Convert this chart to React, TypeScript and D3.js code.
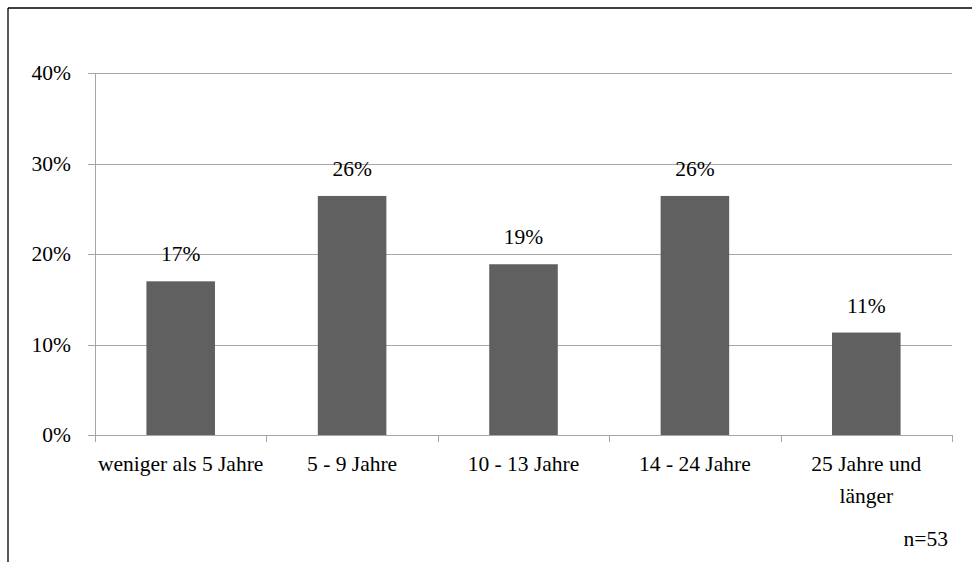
import React from "react";
import * as d3 from "d3";

const categories: string[][] = [
  ["weniger als 5 Jahre"],
  ["5 - 9 Jahre"],
  ["10 - 13 Jahre"],
  ["14 - 24 Jahre"],
  ["25 Jahre und", "länger"],
];
const counts = [9, 14, 10, 14, 6];
const total = 53;
const values = counts.map((c) => c / total);
const yTicks = [0, 0.1, 0.2, 0.3, 0.4];
const note = "n=53";

const W = 972;
const H = 562;
const left = 95;
const right = 952;
const top = 73;
const bottom = 435;
const FONT = "Liberation Serif";
const FS = 21.5;

export default function App() {
  const x = d3
    .scaleBand<number>()
    .domain(categories.map((_, i) => i))
    .range([left, right])
    .paddingInner(0)
    .paddingOuter(0);
  const y = d3.scaleLinear().domain([0, 0.4]).range([bottom, top]);
  const bw = x.bandwidth() * 0.4;
  const fmt = d3.format(".0%");
  const gridColor = "#a6a6a6";
  const ts: React.CSSProperties = { fontFamily: FONT, fontSize: FS };

  return (
    <svg
      width={W}
      height={H}
      style={{ position: "absolute", left: 0, top: 0, background: "#fff" }}
    >
      <rect x={0} y={0} width={W} height={H} fill="#fff" />
      {/* border */}
      <line x1={8} y1={8} x2={W} y2={8} stroke="#000" strokeWidth={1.3} />
      <line x1={8} y1={8} x2={8} y2={H} stroke="#000" strokeWidth={1.3} />

      {/* gridlines & y ticks */}
      {yTicks.map((t) => (
        <g key={t}>
          <line x1={88} x2={right} y1={Math.round(y(t)) + 0.5} y2={Math.round(y(t)) + 0.5} stroke={gridColor} strokeWidth={1} />
          <text x={71} y={y(t) + 7} textAnchor="end" style={ts} fill="#000">
            {fmt(t)}
          </text>
        </g>
      ))}
      {/* y axis */}
      <line x1={left + 0.5} x2={left + 0.5} y1={top} y2={bottom} stroke={gridColor} strokeWidth={1} />
      {/* x ticks */}
      {[...categories.map((_, i) => x(i)!), right].map((px, i) => (
        <line key={i} x1={Math.round(px) + 0.5} x2={Math.round(px) + 0.5} y1={bottom} y2={bottom + 7} stroke={gridColor} strokeWidth={1} />
      ))}

      {/* bars */}
      {values.map((v, i) => {
        const cx = x(i)! + x.bandwidth() / 2;
        return (
          <g key={i}>
            <rect x={cx - bw / 2} y={y(v)} width={bw} height={bottom - y(v)} fill="#606060" />
            <text x={cx} y={y(v) - 20} textAnchor="middle" style={ts} fill="#000">
              {fmt(v)}
            </text>
            {categories[i].map((line, j) => (
              <text key={j} x={cx} y={471 + j * 32} textAnchor="middle" style={ts} fill="#000">
                {line}
              </text>
            ))}
          </g>
        );
      })}

      <text x={948} y={546} textAnchor="end" style={ts} fill="#000">
        {note}
      </text>
    </svg>
  );
}
